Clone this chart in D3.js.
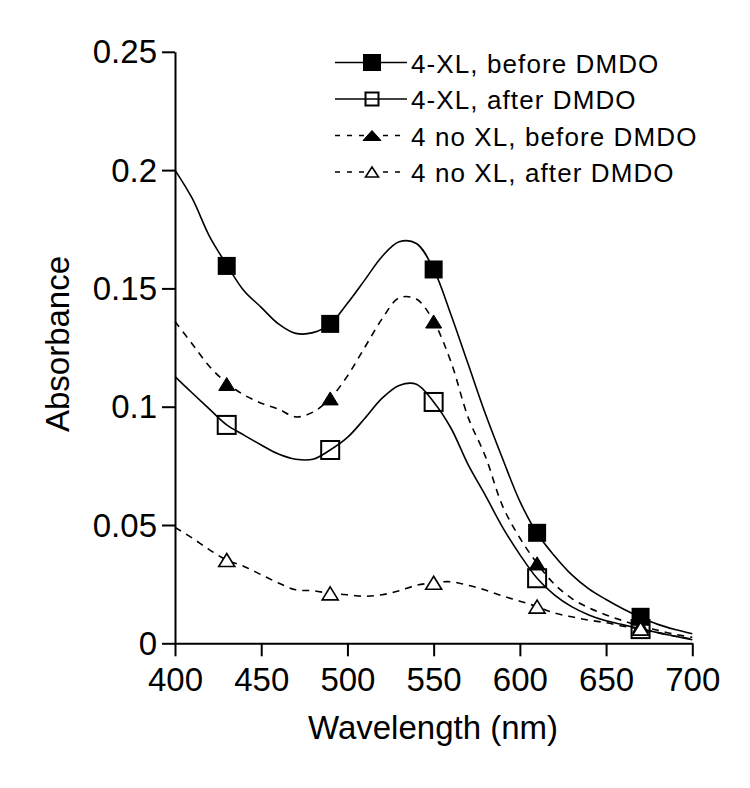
<!DOCTYPE html>
<html>
<head>
<meta charset="utf-8">
<script src="https://cdn.jsdelivr.net/npm/d3@7"></script>
<style>
  html, body { margin: 0; padding: 0; background: #fff; }
  svg { display: block; font-family: "Liberation Sans", Arial, sans-serif; }
</style>
</head>
<body>
<svg id="chart" width="750" height="788"></svg>
<script>
// ---- data ----
const wavelengths = [400,410,420,430,440,450,460,470,480,490,500,510,520,530,540,550,560,570,580,590,600,610,620,630,640,650,660,670,680,690,700];

const xlBefore   = [0.2,0.188,0.172,0.160,0.149,0.142,0.135,0.131,0.1313,0.135,0.1437,0.1535,0.1634,0.1697,0.169,0.158,0.139,0.118,0.097,0.078,0.060,0.0465,0.037,0.029,0.023,0.0185,0.0145,0.011,0.008,0.0058,0.004];
const xlAfter    = [0.1127,0.1058,0.099,0.0923,0.088,0.0838,0.080,0.0778,0.0778,0.0817,0.087,0.095,0.1035,0.109,0.1095,0.102,0.091,0.0755,0.0625,0.049,0.0375,0.0275,0.0205,0.0155,0.012,0.0095,0.0078,0.0062,0.0045,0.003,0.0015];
const noXlBefore = [0.136,0.1265,0.117,0.110,0.105,0.1015,0.099,0.0957,0.0977,0.1035,0.113,0.125,0.137,0.146,0.1455,0.136,0.119,0.0955,0.079,0.058,0.0445,0.0338,0.025,0.019,0.015,0.012,0.0095,0.0072,0.0055,0.0038,0.0025];
const noXlAfter  = [0.049,0.0445,0.0395,0.0352,0.0325,0.029,0.0255,0.0226,0.0222,0.0211,0.0205,0.0199,0.0205,0.0222,0.0245,0.0256,0.026,0.0245,0.0225,0.020,0.0178,0.0155,0.0128,0.0112,0.0098,0.0087,0.0072,0.006,0.0045,0.003,0.0018];

const markerWavelengths = [430,490,550,610,670];
const xlBeforeMarks   = [0.1595,0.135,0.158,0.0467,0.0112];
const xlAfterMarks    = [0.0923,0.0817,0.102,0.0275,0.0060];
const noXlBeforeMarks = [0.1096,0.1035,0.136,0.0338,0.0072];
const noXlAfterMarks  = [0.0352,0.0211,0.0256,0.0155,0.0062];

const seriesNames = ["4-XL, before DMDO","4-XL, after DMDO","4 no XL, before DMDO","4 no XL, after DMDO"];
const xTicks = [400,450,500,550,600,650,700];
const yTicks = [0,0.05,0.1,0.15,0.2,0.25];
const yTickLabels = ["0","0.05","0.1","0.15","0.2","0.25"];
const xTitle = "Wavelength (nm)";
const yTitle = "Absorbance";

// ---- layout ----
const svg = d3.select("#chart");
const x = d3.scaleLinear().domain([400,700]).range([175,692.3]);
const y = d3.scaleLinear().domain([0,0.25]).range([643.3,51.8]);

const series = [
  {name: seriesNames[0], curve: xlBefore,   marks: xlBeforeMarks,   dash: null,  shape: "square",   filled: true},
  {name: seriesNames[1], curve: xlAfter,    marks: xlAfterMarks,    dash: null,  shape: "square",   filled: false},
  {name: seriesNames[2], curve: noXlBefore, marks: noXlBeforeMarks, dash: "7,6", shape: "triangle", filled: true},
  {name: seriesNames[3], curve: noXlAfter,  marks: noXlAfterMarks,  dash: "7,6", shape: "triangle", filled: false}
];

// axes
const yAxis = d3.axisLeft(y).tickValues(yTicks).tickFormat((d,i)=>yTickLabels[i]).tickSize(13).tickSizeOuter(0).tickPadding(5);
const xAxis = d3.axisBottom(x).tickValues(xTicks).tickFormat(d3.format("d")).tickSize(13).tickSizeOuter(0).tickPadding(11);

const gy = svg.append("g").attr("transform","translate(175,0)").call(yAxis);
const gx = svg.append("g").attr("transform","translate(0,643.3)").call(xAxis);
[gy,gx].forEach(g=>{
  g.selectAll("path.domain").attr("stroke","#000").attr("stroke-width",2);
  g.selectAll(".tick line").attr("stroke","#000").attr("stroke-width",2);
  g.selectAll(".tick text").attr("fill","#000").style("font-size","33px").style("font-family","'Liberation Sans', Arial, sans-serif");
});
gy.selectAll(".tick text").attr("dy",null).attr("y",11);

// titles
svg.append("text").attr("x",433).attr("y",739).attr("text-anchor","middle")
  .style("font-size","33px").text(xTitle);
svg.append("text").attr("transform","translate(69,344) rotate(-90)").attr("text-anchor","middle")
  .style("font-size","33px").text(yTitle);

// marker drawing
function drawMarker(g, shape, filled, cx, cy, w, h) {
  if (shape === "square") {
    g.append("rect").attr("x",cx-w/2).attr("y",cy-h/2).attr("width",w).attr("height",h)
      .attr("fill", filled ? "#000" : "none").attr("stroke","#000").attr("stroke-width", filled ? 0 : 2);
  } else {
    const pts = [[cx,cy-h/2],[cx+w/2,cy+h/2],[cx-w/2,cy+h/2]];
    g.append("path").attr("d","M"+pts.map(p=>p.join(",")).join("L")+"Z")
      .attr("fill", filled ? "#000" : "#fff").attr("stroke","#000").attr("stroke-width", filled ? 1 : 1.6);
  }
}

const line = d3.line().x(d=>x(d[0])).y(d=>y(d[1])).curve(d3.curveCatmullRom.alpha(0.5));
const plot = svg.append("g");
series.forEach(s=>{
  const pts = wavelengths.map((w,i)=>[w,s.curve[i]]);
  plot.append("path").attr("d",line(pts)).attr("fill","none").attr("stroke","#000")
    .attr("stroke-width",1.6).attr("stroke-dasharray",s.dash);
});
series.forEach(s=>{
  const g = plot.append("g");
  markerWavelengths.forEach((w,i)=>{
    if (s.shape === "square") drawMarker(g,"square",s.filled,x(w),y(s.marks[i]),18,18);
    else drawMarker(g,"triangle",s.filled,x(w),y(s.marks[i]),16,13);
  });
});

// legend
const legendBase = [72.5,109,145.5,182];
const leg = svg.append("g");
series.forEach((s,i)=>{
  const cy = legendBase[i]-10;
  leg.append("line").attr("x1",335).attr("x2",407).attr("y1",cy).attr("y2",cy)
    .attr("stroke","#000").attr("stroke-width",1.6).attr("stroke-dasharray", s.dash ? "5,7" : null);
  if (s.shape === "square") drawMarker(leg,"square",s.filled,372,cy,s.filled?18:13,s.filled?17:13);
  else drawMarker(leg,"triangle",s.filled,372,cy,s.filled?18:13,10);
  leg.append("text").attr("x",411).attr("y",legendBase[i]).style("font-size","26px")
    .style("letter-spacing","1.1px").text(s.name);
});
</script>
</body>
</html>
